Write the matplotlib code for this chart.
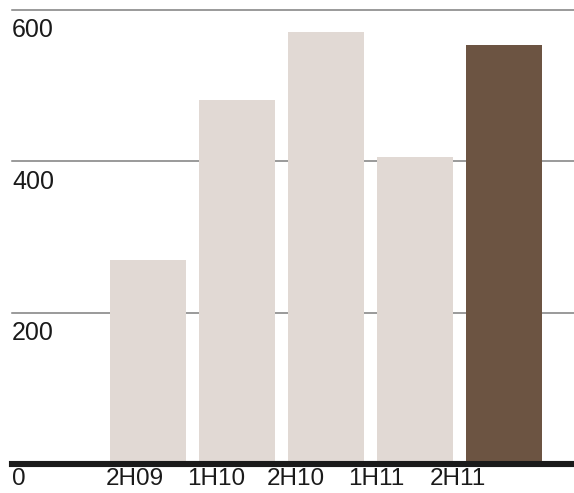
import matplotlib.pyplot as plt
import numpy as np

periods = ['2H09', '1H10', '2H10', '1H11', '2H11']
values = [269, 481, 571, 406, 554]
yticks = [200, 400, 600]

LIGHT = '#e1d9d4'
DARK = '#6c5442'
TEXT = '#1a1a1a'

plt.rcParams['font.family'] = ['Liberation Sans', 'DejaVu Sans']

fig = plt.figure(figsize=(5.74, 4.93), dpi=100)
ax = fig.add_axes([12 / 574, 29 / 493, 562 / 574, 454 / 493])

x = np.arange(len(periods))
colors = [LIGHT] * (len(periods) - 1) + [DARK]
ax.bar(x, values, width=0.854, color=colors, zorder=2)

ax.set_xlim(-1.528, 4.787)
ax.set_ylim(0, 600)

# gridlines with value labels tucked underneath at the left edge
for v in yticks:
    ax.axhline(v, color='#7f7f7f', lw=1.1, zorder=1, clip_on=False)
    ax.annotate(str(v), xy=(0, v), xycoords=('axes fraction', 'data'),
                xytext=(0, -6), textcoords='offset points',
                ha='left', va='top', fontsize=18, color=TEXT)

# thick zero line
ax.axhline(0, color='#1a1a1a', lw=4.4, zorder=3, clip_on=False)

ax.annotate('0', xy=(0, 0), xycoords=('axes fraction', 'data'),
            xytext=(0, -3), textcoords='offset points',
            ha='left', va='top', fontsize=17.5, color=TEXT)

# period labels run along the bottom
label_x = [106, 187, 267, 348, 430]
for lx, p in zip(label_x, periods):
    ax.annotate(p, xy=((lx - 12) / 562, 0), xycoords=('axes fraction', 'data'),
                xytext=(0, -3), textcoords='offset points',
                ha='left', va='top', fontsize=17.5, color=TEXT)

ax.set_xticks([])
ax.set_yticks([])
for s in ax.spines.values():
    s.set_visible(False)

fig.savefig('out.png', dpi=100)
